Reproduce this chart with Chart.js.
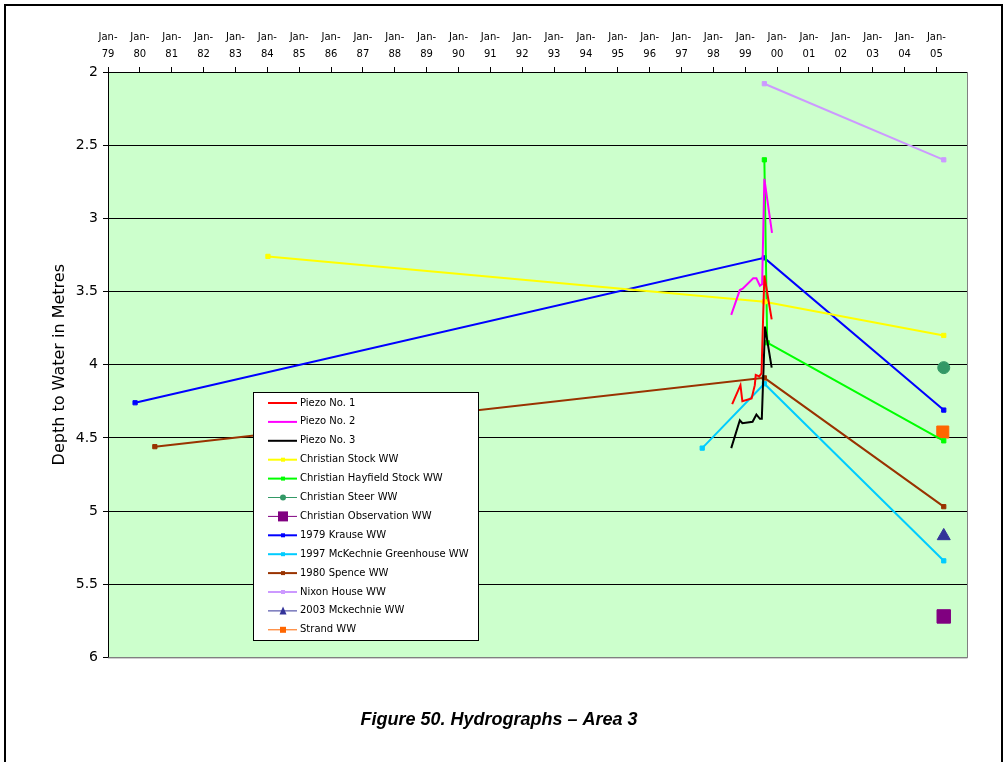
<!DOCTYPE html>
<html>
<head>
<meta charset="utf-8">
<script src="https://cdn.jsdelivr.net/npm/chart.js@4/dist/chart.umd.min.js"></script>
<style>
  body { margin: 0; background: #fff; }
  #wrap { position: relative; width: 1007px; height: 762px; overflow: hidden; }
  #frame { position: absolute; left: 4px; top: 4px; width: 995px; height: 800px; border: 2px solid #000; pointer-events: none; }
  canvas { position: absolute; left: 0; top: 0; }
</style>
</head>
<body>
<div id="wrap">
  <canvas id="chartContainer" width="1007" height="762"></canvas>
  <div id="frame"></div>
</div>
<script>
"use strict";

// 1: data (dates as decimal years, depth in metres)
const yearLabels = ['79', '80', '81', '82', '83', '84', '85', '86', '87', '88', '89', '90', '91',
  '92', '93', '94', '95', '96', '97', '98', '99', '00', '01', '02', '03', '04', '05'];

const piezo1Years = [1998.59, 1998.85, 1998.91, 1999.20, 1999.30, 1999.33, 1999.44, 1999.51, 1999.60, 1999.83];
const piezo1Depth = [4.27, 4.14, 4.25, 4.23, 4.14, 4.07, 4.08, 4.06, 3.39, 3.69];

const piezo2Years = [1998.56, 1998.83, 1998.92, 1999.25, 1999.35, 1999.46, 1999.53, 1999.60, 1999.84];
const piezo2Depth = [3.66, 3.49, 3.48, 3.41, 3.41, 3.46, 3.45, 2.73, 3.10];

const piezo3Years = [1998.56, 1998.83, 1998.91, 1999.23, 1999.35, 1999.46, 1999.52, 1999.62, 1999.83];
const piezo3Depth = [4.57, 4.38, 4.40, 4.39, 4.34, 4.37, 4.37, 3.74, 4.02];

const stockYears = [1984.02, 1999.60, 2005.23];
const stockDepth = [3.26, 3.57, 3.80];

const hayfieldYears = [1999.60, 1999.69, 2005.23];
const hayfieldDepth = [2.60, 3.85, 4.52];

const steerYears = [2005.23];
const steerDepth = [4.02];

const observationYears = [2005.23];
const observationDepth = [5.72];

const krauseYears = [1979.85, 1999.60, 2005.23];
const krauseDepth = [4.26, 3.27, 4.31];

const greenhouseYears = [1997.65, 1999.60, 2005.23];
const greenhouseDepth = [4.57, 4.13, 5.34];

const spenceYears = [1980.47, 1999.60, 2005.23];
const spenceDepth = [4.56, 4.09, 4.97];

const nixonYears = [1999.60, 2005.23];
const nixonDepth = [2.08, 2.60];

const mckechnieYears = [2005.23];
const mckechnieDepth = [5.17];

const strandYears = [2005.20];
const strandDepth = [4.46];

// 2: prepare data for chart
function toPoints(years, depths) {
  let points = [];
  for (let i = 0; i < years.length; i++) {
    points.push({ x: years[i], y: depths[i] });
  }
  return points;
}

function series(label, years, depths, color, style, radius, width) {
  return {
    label: label,
    data: toPoints(years, depths),
    borderColor: color,
    backgroundColor: color,
    borderWidth: width,
    pointStyle: style || 'rect',
    pointRadius: style ? radius : 0,
    pointBorderWidth: 1,
    pointBorderColor: color,
    pointBackgroundColor: color,
    showLine: true,
    tension: 0
  };
}

const textFont = 'DejaVu Sans';

// background of plot area, grey plot border and the legend box inside the plot
const plotDecor = {
  id: 'plotDecor',
  beforeDraw(chart) {
    const { ctx, chartArea: a } = chart;
    ctx.save();
    ctx.fillStyle = '#CCFFCC';
    ctx.fillRect(a.left, a.top, a.right - a.left, a.bottom - a.top);
    ctx.restore();
  },
  beforeDatasetsDraw(chart) {
    const { ctx, chartArea: a } = chart;
    ctx.save();
    ctx.strokeStyle = '#808080';
    ctx.lineWidth = 1;
    ctx.beginPath();
    ctx.moveTo(a.right + 0.5, a.top);
    ctx.lineTo(a.right + 0.5, a.bottom + 0.5);
    ctx.lineTo(a.left, a.bottom + 0.5);
    ctx.stroke();
    ctx.restore();
  },
  afterDraw(chart) {
    const { ctx, chartArea: a } = chart;
    const left = a.left + 145, top = a.top + 320;
    ctx.save();
    ctx.fillStyle = '#fff';
    ctx.fillRect(left, top, 225, 248);
    ctx.strokeStyle = '#000';
    ctx.lineWidth = 1;
    ctx.strokeRect(left + 0.5, top + 0.5, 225, 248);
    ctx.font = '10px "' + textFont + '"';
    ctx.textBaseline = 'middle';
    chart.data.datasets.forEach((ds, i) => {
      const y = top + 11 + i * 18.9;
      ctx.strokeStyle = ds.borderColor;
      ctx.lineWidth = ds.borderWidth > 1 ? 2 : 1;
      ctx.beginPath();
      ctx.moveTo(left + 15, y);
      ctx.lineTo(left + 44, y);
      ctx.stroke();
      if (ds.pointRadius > 0) {
        const cx = left + 30;
        const s = ds.legendMark;
        ctx.fillStyle = ds.borderColor;
        ctx.beginPath();
        if (ds.pointStyle === 'circle') {
          ctx.arc(cx, y, s / 2, 0, Math.PI * 2);
        } else if (ds.pointStyle === 'triangle') {
          ctx.moveTo(cx, y - s / 2 - 1);
          ctx.lineTo(cx + s / 2, y + s / 2);
          ctx.lineTo(cx - s / 2, y + s / 2);
          ctx.closePath();
        } else {
          ctx.rect(cx - s / 2, y - s / 2, s, s);
        }
        ctx.fill();
      }
      ctx.fillStyle = '#000';
      ctx.fillText(ds.label, left + 47, y);
    });
    ctx.restore();
  }
};

// 3: create and append the chart
function appendChart() {
  const datasets = [
    series('Piezo No. 1', piezo1Years, piezo1Depth, '#FF0000', null, 0, 2),
    series('Piezo No. 2', piezo2Years, piezo2Depth, '#FF00FF', null, 0, 2),
    series('Piezo No. 3', piezo3Years, piezo3Depth, '#000000', null, 0, 2),
    series('Christian Stock WW', stockYears, stockDepth, '#FFFF00', 'rect', 3, 2),
    series('Christian Hayfield Stock WW', hayfieldYears, hayfieldDepth, '#00FF00', 'rect', 3, 2),
    series('Christian Steer WW', steerYears, steerDepth, '#339966', 'circle', 6, 1),
    series('Christian Observation WW', observationYears, observationDepth, '#800080', 'rect', 9.5, 1),
    series('1979 Krause WW', krauseYears, krauseDepth, '#0000FF', 'rect', 3, 2),
    series('1997 McKechnie Greenhouse WW', greenhouseYears, greenhouseDepth, '#00CCFF', 'rect', 3, 2),
    series('1980 Spence WW', spenceYears, spenceDepth, '#993300', 'rect', 3, 2),
    series('Nixon House WW', nixonYears, nixonDepth, '#CC99FF', 'rect', 3, 2),
    series('2003 Mckechnie WW', mckechnieYears, mckechnieDepth, '#333399', 'triangle', 7.5, 1),
    series('Strand WW', strandYears, strandDepth, '#FF6600', 'rect', 8.5, 1)
  ];
  const marks = [0, 0, 0, 4, 4, 6, 10, 4, 4, 4, 4, 7, 6];
  datasets.forEach((ds, i) => { ds.legendMark = marks[i]; });

  let chartContainer = document.getElementById('chartContainer');
  let chart = new Chart(chartContainer, {
    type: 'line',
    data: { datasets: datasets },
    plugins: [plotDecor],
    options: {
      responsive: false,
      animation: false,
      layout: { padding: { left: 0, right: 9, top: 0, bottom: 10 } },
      plugins: {
        legend: { display: false },
        tooltip: { enabled: false },
        title: {
          display: true,
          position: 'bottom',
          text: 'Figure 50. Hydrographs \u2013 Area 3',
          color: '#000',
          font: { family: 'Liberation Sans', size: 18, weight: 'bold', style: 'italic' },
          padding: { top: 52, bottom: 21 }
        }
      },
      scales: {
        x: {
          type: 'linear',
          position: 'top',
          min: 1979,
          max: 2005.96,
          afterFit(scale) { scale.height = 72; },
          border: { display: true, color: '#000', width: 1 },
          grid: { display: true, drawOnChartArea: false, drawTicks: true, tickLength: 5, color: '#000' },
          ticks: {
            stepSize: 1,
            autoSkip: false,
            maxRotation: 0,
            includeBounds: false,
            padding: 4,
            color: '#000',
            font: { family: textFont, size: 10, lineHeight: 1.7 },
            callback: (v) => ['Jan-', yearLabels[Math.round(v) - 1979]]
          }
        },
        y: {
          type: 'linear',
          reverse: true,
          min: 2,
          max: 6,
          afterFit(scale) { scale.width = 108; },
          border: { display: true, color: '#000', width: 1 },
          grid: {
            color: (c) => (c.tick && c.tick.value === 6 ? '#808080' : '#000'),
            tickLength: 5,
            tickColor: '#000'
          },
          ticks: {
            stepSize: 0.5,
            padding: 5,
            color: '#000',
            font: { family: textFont, size: 14 },
            callback: (v) => String(v)
          },
          title: {
            display: true,
            text: 'Depth to Water in Metres',
            color: '#000',
            font: { family: textFont, size: 16 },
            padding: { top: 50, bottom: 0 }
          }
        },
        yRight: {
          type: 'linear',
          position: 'right',
          display: true,
          afterFit(scale) { scale.width = 31; },
          border: { display: false },
          grid: { display: false },
          ticks: { display: false }
        }
      }
    }
  });
}

appendChart();
</script>
</body>
</html>
